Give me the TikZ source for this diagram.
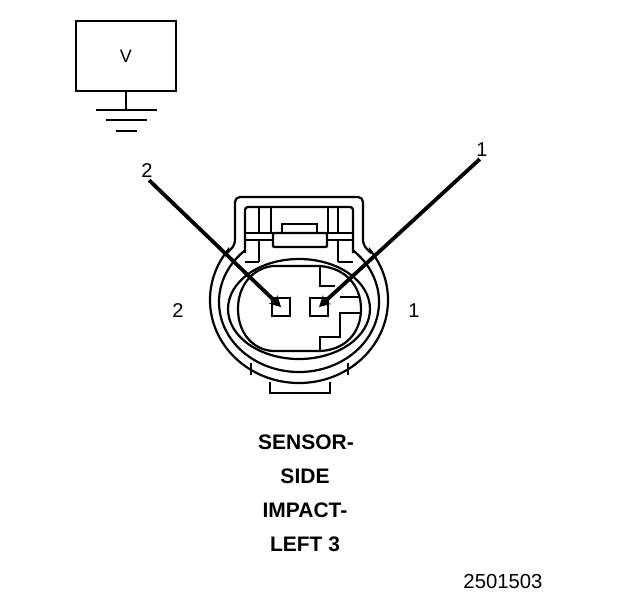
\documentclass[tikz,border=0pt]{standalone}
\usepackage{fontspec}
\setmainfont{Liberation Sans}
\usetikzlibrary{arrows.meta}
\tikzset{
  ln/.style={line width=2.2pt},
  pin/.style={draw,line width=2.2pt,minimum width=18pt,minimum height=18pt,inner sep=0pt},
  num/.style={font=\fontsize{20}{20}\selectfont,inner sep=0pt},
  title/.style={font=\fontsize{21}{21}\selectfont\bfseries,inner sep=0pt},
  pointer/.style={line width=3.8pt,shorten <=3pt,-{Stealth[length=11pt,width=12pt]}}
}
\begin{document}
\begin{tikzpicture}[x=1pt,y=-1pt]
      \useasboundingbox (0,0) rectangle (624,600);
      % meter and ground
      \node[draw,line width=2.2pt,minimum width=100pt,minimum height=70pt,inner sep=0pt,font=\fontsize{18}{18}\selectfont] (meter) at (126,56) {V};
      \coordinate (gnd) at (126,110);
      \draw[ln] (meter.south) to (gnd);
      \draw[ln]
        (96,110) -- (157,110)
        (106,120) -- (147,120)
        (116,131) -- (137,131);
      % rings, clipped away under the tab
      \begin{scope}
        \clip (190,200) -- (229,200) -- (229,250) -- (245,250) -- (245,270) -- (353,270) -- (353,250) -- (369,250) -- (369,200) -- (410,200) -- (410,400) -- (190,400) -- cycle;
        \draw[ln] (299,300) ellipse [x radius=89,y radius=83];
        \draw[ln] (299,302) ellipse [x radius=80,y radius=70];
      \end{scope}
      \draw[ln] (299,309) ellipse [x radius=71,y radius=50];
      % inner cavity
      \draw[ln]
        (273,266) -- (320,266)
        .. controls (345,268) and (361,285) .. (361,309)
        .. controls (361,333) and (345,350) .. (320,351)
        -- (273,351)
        .. controls (253,350) and (238,333) .. (238,309)
        .. controls (238,285) and (253,268) .. (273,266);
      \draw[ln]
        (320,266) -- (320,286) -- (335,286)
        (340,297) -- (360,297)
        (360,313) -- (340,313) -- (340,337) -- (320,337) -- (320,351);
      % tab on top
      \draw[ln,rounded corners=5pt] (227,253) -- (235,245) -- (235,197) -- (363,197) -- (363,245) -- (371,253);
      \draw[ln,rounded corners=3pt] (245,253) -- (245,207) -- (353,207) -- (353,253);
      \draw[ln]
        (245,233) -- (273,233)
        (245,240) -- (273,240)
        (327,233) -- (353,233)
        (327,240) -- (353,240)
        (259,207) -- (259,233)
        (259,240) -- (259,262)
        (338,207) -- (338,233)
        (338,240) -- (338,262)
        (271,207) -- (271,233)
        (328,207) -- (328,233)
        (245,262) -- (259,262)
        (338,262) -- (353,262);
      \draw[ln,fill=white,rounded corners=1pt] (273,233) rectangle (327,247);
      \draw[ln] (282,233) -- (282,224) -- (317,224) -- (317,233);
      % tab at the bottom
      \draw[ln]
        (251,363) -- (251,375)
        (348,363) -- (348,375)
        (270,382) -- (270,393) -- (330,393) -- (330,382);
      % terminals
      \node[pin] (cav2) at (281,307) {};
      \node[pin] (cav1) at (319,307) {};
      \node[num] (side2) at (178,311) {2};
      \node[num] (side1) at (414,311) {1};
      % pointers
      \node[num] (lab2) at (147,171) {2};
      \node[num] (lab1) at (482,150) {1};
      \draw[pointer] (lab2.south) to (cav2.center);
      \draw[pointer] (lab1.south) to (cav1.center);
      % name
      \node[title] (t1) at (306,442) {SENSOR-};
      \node[title] (t2) at (305,476) {SIDE};
      \node[title] (t3) at (305,510) {IMPACT-};
      \node[title] (t4) at (305,544) {LEFT 3};
      \node[font=\fontsize{20.3}{20.3}\selectfont,inner sep=0pt] (code) at (503,582) {2501503};
    \end{tikzpicture}
\end{document}
